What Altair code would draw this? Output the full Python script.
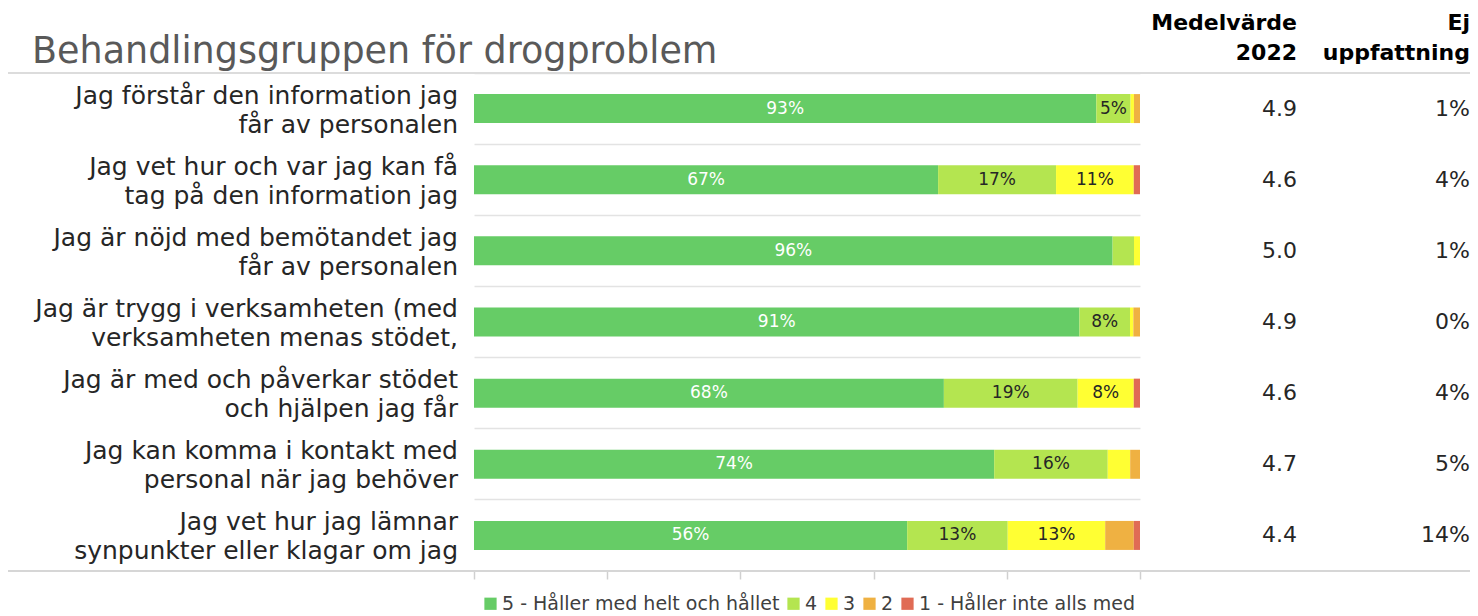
import altair as alt
import pandas as pd

FONT = "DejaVu Sans"

title_text = "Behandlingsgruppen för drogproblem"
statements = [
    "Jag förstår den information jag\nfår av personalen",
    "Jag vet hur och var jag kan få\ntag på den information jag",
    "Jag är nöjd med bemötandet jag\nfår av personalen",
    "Jag är trygg i verksamheten (med\nverksamheten menas stödet,",
    "Jag är med och påverkar stödet\noch hjälpen jag får",
    "Jag kan komma i kontakt med\npersonal när jag behöver",
    "Jag vet hur jag lämnar\nsynpunkter eller klagar om jag",
]
categories = ["5 - Håller med helt och hållet", "4", "3", "2", "1 - Håller inte alls med"]
colors = ["#66CC66", "#B4E550", "#FFFF33", "#EFB142", "#E06B55"]

v5 = [92.6, 66.9, 95.6, 91.0, 67.8, 74.2, 56.0]
v4 = [5.1, 17.0, 3.2, 7.6, 19.3, 16.2, 13.0]
v3 = [0.5, 11.2, 0.9, 0.5, 8.1, 3.2, 12.6]
v2 = [0.9, 0.0, 0.0, 1.0, 0.0, 1.4, 3.7]
v1 = [0.0, 0.9, 0.0, 0.0, 0.9, 0.0, 0.8]
mean_2022 = [4.9, 4.6, 5.0, 4.9, 4.6, 4.7, 4.4]
ej_uppfattning = [1, 4, 1, 0, 4, 5, 14]

series = [v5, v4, v3, v2, v1]
rows = []
for i, s in enumerate(statements):
    for k, cat in enumerate(categories):
        val = series[k][i]
        rows.append({"statement": s, "cat": cat, "rank": k, "val": val,
                     "label": f"{round(val)}%"})
df = pd.DataFrame(rows)

tab = pd.DataFrame({
    "statement": statements,
    "mean": [f"{m:.1f}" for m in mean_2022],
    "ej": [f"{e}%" for e in ej_uppfattning],
})

W, H = 666, 498
LEFT, RIGHT = 466, 330
ysc = alt.Scale(domain=statements, paddingInner=0, paddingOuter=0)
Y = alt.Y("statement:N", scale=ysc, sort=statements,
          axis=alt.Axis(labels=False, ticks=False, domain=False, title=None,
                        grid=True, gridColor="#e3e3e3", gridWidth=1.5, bandPosition=0))
Yp = alt.Y("statement:N", scale=ysc, sort=statements)
xsc = alt.Scale(domain=[0, 1], nice=False, zero=False)

base = alt.Chart(df).transform_stack(
    stack="val", groupby=["statement"], as_=["x0", "x1"], offset="normalize",
    sort=[alt.SortField("rank", order="ascending")]
).transform_calculate(mid="(datum.x0 + datum.x1) / 2")

bars = base.mark_bar(size=29).encode(
    x=alt.X("x0:Q", scale=xsc,
            axis=alt.Axis(values=[0, 0.2, 0.4, 0.6, 0.8, 1.0], labels=False, domain=False,
                          grid=False, ticks=True, tickSize=8, tickColor="#d0d0d0",
                          tickWidth=1.5, title=None)),
    x2="x1:Q",
    y=Y,
    color=alt.Color("cat:N", scale=alt.Scale(domain=categories, range=colors),
                    legend=alt.Legend(orient="none", legendX=7, legendY=521,
                                      direction="horizontal", title=None,
                                      symbolType="square", symbolSize=150,
                                      symbolStrokeWidth=0, labelFontSize=19,
                                      labelFont=FONT, labelColor="#404040",
                                      labelLimit=500, columnPadding=4, labelOffset=2)),
)

seg_labels = base.transform_filter(alt.datum.val >= 4.5).mark_text(
    font=FONT, fontSize=17, baseline="middle", align="center"
).encode(
    x=alt.X("mid:Q", scale=xsc),
    y=Yp,
    text="label:N",
    color=alt.condition(alt.datum.rank == 0, alt.value("white"), alt.value("#262626")),
)

row_labels = alt.Chart(tab).mark_text(
    font=FONT, fontSize=25, align="right", baseline="middle", lineBreak="\n",
    lineHeight=29, color="#262626", dy=-13
).encode(x=alt.value(-16), y=Yp, text="statement:N")

mean_col = alt.Chart(tab).mark_text(
    font=FONT, fontSize=22, align="right", baseline="middle", color="#262626"
).encode(x=alt.value(823), y=Yp, text="mean:N")

ej_col = alt.Chart(tab).mark_text(
    font=FONT, fontSize=22, align="right", baseline="middle", color="#262626"
).encode(x=alt.value(996), y=Yp, text="ej:N")


def label(text, x, y, **kw):
    return alt.Chart(pd.DataFrame({"t": [text]})).mark_text(
        font=FONT, baseline="alphabetic", **kw
    ).encode(x=alt.value(x), y=alt.value(y), text="t:N")


title = label(title_text, -442, -10, fontSize=36.5, align="left", color="#595959")
hdr_kw = dict(fontSize=22, fontWeight="bold", align="right", color="#000000")
headers = [
    label("Medelvärde", 823, -43, **hdr_kw),
    label("2022", 823, -13, **hdr_kw),
    label("Ej", 996, -43, **hdr_kw),
    label("uppfattning", 996, -13, **hdr_kw),
]

one = alt.Chart(pd.DataFrame({"a": [0]}))
top_rule = one.mark_rule(color="#dcdcdc", strokeWidth=2).encode(
    x=alt.value(-LEFT), x2=alt.value(W + RIGHT), y=alt.value(0))
bottom_rule = one.mark_rule(color="#d6d6d6", strokeWidth=2).encode(
    x=alt.value(-LEFT), x2=alt.value(W + RIGHT), y=alt.value(H))

chart = alt.layer(
    bars, seg_labels, row_labels, mean_col, ej_col, title, *headers, top_rule, bottom_rule
).properties(
    width=W, height=H,
    autosize=alt.AutoSizeParams(type="none"),
    padding={"left": LEFT, "top": 65, "right": RIGHT, "bottom": 45},
).configure_view(stroke=None)

chart.save("out.html", embed_options={"renderer": "svg", "actions": False})
